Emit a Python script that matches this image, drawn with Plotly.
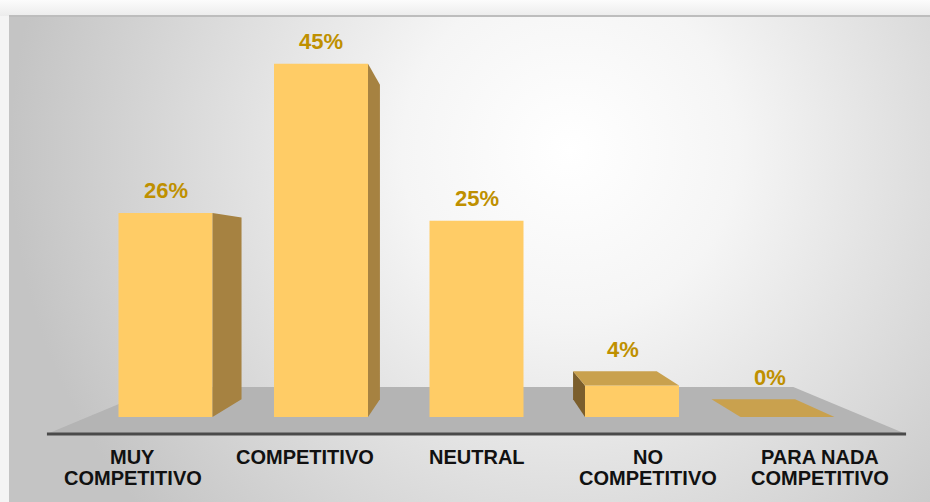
import base64
import plotly.graph_objects as go

# ---- data -------------------------------------------------------------
categories = ["MUY COMPETITIVO", "COMPETITIVO", "NEUTRAL",
              "NO COMPETITIVO", "PARA NADA COMPETITIVO"]
category_lines = [["MUY", "COMPETITIVO"], ["COMPETITIVO"], ["NEUTRAL"],
                  ["NO", "COMPETITIVO"], ["PARA NADA", "COMPETITIVO"]]
shares = [26, 45, 25, 4, 0]
share_labels = ["26%", "45%", "25%", "4%", "0%"]

# ---- pseudo-3D geometry (axis units) -----------------------------------
BAR_WIDTH = 0.6045
VANISH_X, VANISH_Y = 2.0, 20.64      # vanishing point of the perspective
BACK_SCALE = 0.89                    # depth of the bar back faces
FLOOR_FRONT_SCALE = 1.105            # front edge of the floor
FLOOR_BACK_SCALE = 0.815             # back edge of the floor

FRONT_COLOR = "#FFCC66"
RIGHT_SIDE_COLOR = "#A68241"
LEFT_SIDE_COLOR = "#7B5E2C"
TOP_COLOR = "#C9A14E"
FLOOR_COLOR = "#B4B4B4"
LABEL_COLOR = "#BF9000"
FONT = "Liberation Sans, Arial, sans-serif"

X_RANGE = [-1.0643, 4.9164]
Y_RANGE = [-10.83, 53.12]


def project(x, y, s):
    """Scale a point towards the vanishing point by factor s."""
    return VANISH_X + s * (x - VANISH_X), VANISH_Y + s * (y - VANISH_Y)


fig = go.Figure()

# front faces of the bars
x_idx = list(range(len(categories)))
fig.add_trace(go.Bar(
    x=x_idx, y=shares, width=BAR_WIDTH,
    marker=dict(color=FRONT_COLOR, line=dict(width=0)),
    hoverinfo="skip", showlegend=False,
))


def add_face(points, color):
    xs = [p[0] for p in points] + [points[0][0]]
    ys = [p[1] for p in points] + [points[0][1]]
    fig.add_trace(go.Scatter(
        x=xs, y=ys, mode="lines", fill="toself", fillcolor=color,
        line=dict(width=0, color=color), hoverinfo="skip", showlegend=False,
    ))


annotations = []
for i, (v, lab) in enumerate(zip(shares, share_labels)):
    xl, xr = i - BAR_WIDTH / 2, i + BAR_WIDTH / 2
    # visible side faces
    if xr < VANISH_X and v > 0:
        add_face([(xr, v), project(xr, v, BACK_SCALE),
                  project(xr, 0, BACK_SCALE), (xr, 0)], RIGHT_SIDE_COLOR)
    if xl > VANISH_X and v > 0:
        add_face([(xl, v), project(xl, v, BACK_SCALE),
                  project(xl, 0, BACK_SCALE), (xl, 0)], LEFT_SIDE_COLOR)
    top_visible = v < VANISH_Y
    if top_visible:
        add_face([(xl, v), (xr, v), project(xr, v, BACK_SCALE),
                  project(xl, v, BACK_SCALE)], TOP_COLOR)
        bx, by = project(i, v, BACK_SCALE)
        ax, ay = (i + bx) / 2, by
    else:
        ax, ay = i, v
    annotations.append(dict(
        x=ax, y=ay, xref="x", yref="y", text=lab, showarrow=False,
        yanchor="middle", yshift=22,
        font=dict(family=FONT, size=22, color=LABEL_COLOR, weight="bold"),
    ))

# floor and front edge line
fl = project(-0.5, 0, FLOOR_FRONT_SCALE)
fr = project(len(categories) - 0.5, 0, FLOOR_FRONT_SCALE)
br = project(len(categories) - 0.5, 0, FLOOR_BACK_SCALE)
bl = project(-0.5, 0, FLOOR_BACK_SCALE)
floor_path = "M {} {} L {} {} L {} {} L {} {} Z".format(
    fl[0], fl[1], fr[0], fr[1], br[0], br[1], bl[0], bl[1])
shapes = [
    dict(type="path", path=floor_path, xref="x", yref="y",
         fillcolor=FLOOR_COLOR, line=dict(width=0), layer="below"),
    dict(type="line", x0=fl[0], y0=fl[1], x1=fr[0], y1=fr[1],
         xref="x", yref="y", line=dict(color="#4A4A4A", width=3),
         layer="below"),
]

# category labels under the floor edge
for i, lines in enumerate(category_lines):
    lx, ly = project(i, 0, FLOOR_FRONT_SCALE)
    for j, line in enumerate(lines):
        annotations.append(dict(
            x=lx, y=ly, xref="x", yref="y", text=line, showarrow=False,
            yanchor="middle", yshift=-(23 + 21 * j),
            font=dict(family=FONT, size=20, color="#111111", weight="bold"),
        ))

# chart area background with a soft radial light
svg = """<svg xmlns="http://www.w3.org/2000/svg" width="930" height="502"
 viewBox="0 0 930 502" preserveAspectRatio="none">
<defs>
<radialGradient id="g" gradientUnits="userSpaceOnUse" cx="570" cy="150" r="560">
<stop offset="0" stop-color="#ffffff"/>
<stop offset="0.3" stop-color="#f5f5f5"/>
<stop offset="1" stop-color="#c4c4c4"/>
</radialGradient>
<linearGradient id="t" x1="0" y1="0" x2="0" y2="1">
<stop offset="0" stop-color="#fcfcfc"/>
<stop offset="1" stop-color="#ececec"/>
</linearGradient>
</defs>
<rect width="930" height="502" fill="#f4f4f4"/>
<rect width="930" height="16" fill="url(#t)"/>
<rect x="9" y="16" width="921" height="486" fill="url(#g)"/>
<rect x="9" y="15" width="921" height="2" fill="#bdbdbd"/>
</svg>"""
bg_src = "data:image/svg+xml;base64," + base64.b64encode(svg.encode()).decode()

fig.update_layout(
    width=930, height=502,
    margin=dict(l=0, r=0, t=0, b=0),
    paper_bgcolor="#f4f4f4", plot_bgcolor="rgba(0,0,0,0)",
    xaxis=dict(range=X_RANGE, visible=False, fixedrange=True),
    yaxis=dict(range=Y_RANGE, visible=False, fixedrange=True),
    shapes=shapes, annotations=annotations,
    images=[dict(source=bg_src, xref="paper", yref="paper", x=0, y=1,
                 sizex=1, sizey=1, xanchor="left", yanchor="top",
                 sizing="stretch", layer="below")],
    showlegend=False,
)

fig.write_html("out.html", config={"displayModeBar": False})
